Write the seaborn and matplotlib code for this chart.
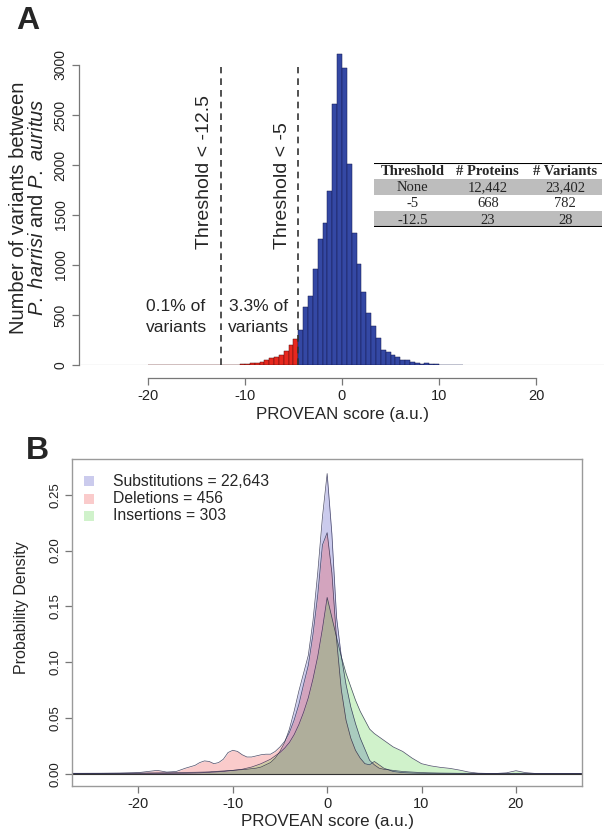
import numpy as np
import matplotlib
matplotlib.use("Agg")
import matplotlib.pyplot as plt
import seaborn as sns

sns.set_theme(style="white")
plt.rcParams['font.family'] = ['Liberation Sans', 'DejaVu Sans']
plt.rcParams['mathtext.fontset'] = 'custom'
plt.rcParams['mathtext.it'] = 'Liberation Sans:italic'
plt.rcParams['mathtext.rm'] = 'Liberation Sans'
plt.rcParams['axes.unicode_minus'] = False

# ---------------- Panel A data ----------------
red_edges = np.arange(-20.0, -4.49, 0.5)          # bins below threshold
red_counts = [1, 1, 1, 1, 1, 2, 1, 2, 2, 2, 2, 2, 3, 3, 4,   # -20 .. -12.5
              1, 2, 2, 3, 7, 10, 17, 23, 33, 50, 67, 83, 100, 143, 200, 260]
blue_edges = np.arange(-4.5, 12.51, 0.5)
blue_counts = [350, 583, 690, 957, 1263, 1423, 1737, 2607, 3110, 2973,
               2010, 1323, 1007, 733, 517, 390, 267, 150, 127, 100,
               75, 50, 50, 25, 23, 12, 17, 8, 5, 4, 3, 3, 2, 2]
thresholds = [-12.5, -4.5]
threshold_labels = ["Threshold < -12.5", "Threshold < -5"]
pct_labels = ["0.1% of\nvariants", "3.3% of\nvariants"]

table_cols = ["Threshold", "# Proteins", "# Variants"]
table_rows = [["None", "12,442", "23,402"],
              ["-5", "668", "782"],
              ["-12.5", "23", "28"]]

# ---------------- Panel B data ----------------
dens_x = [-27, -24, -22, -20, -19, -18, -17, -16, -15, -14, -13.5, -13, -12.5, -12, -11.5, -11,
          -10.5, -10, -9.5, -9, -8.5, -8, -7.5, -7, -6.5, -6, -5.5, -5, -4.5, -4, -3.5, -3,
          -2.5, -2, -1.5, -1, -0.5, 0, 0.5, 1, 1.5, 2, 2.5, 3, 3.5, 4, 4.5, 5, 5.5, 6, 7, 8,
          9, 10, 11, 12, 13, 14, 15, 16, 17, 18, 19, 20, 21, 22, 24, 27]
subst = [0.0004, 0.0004, 0.0005, 0.0006, 0.0007, 0.0008, 0.0009, 0.001, 0.0012, 0.0013, 0.0014,
         0.0015, 0.0017, 0.002, 0.0022, 0.0025, 0.0028, 0.003, 0.0033, 0.0036, 0.004, 0.0045,
         0.005, 0.006, 0.008, 0.01, 0.014, 0.02, 0.028, 0.04, 0.056, 0.074, 0.09, 0.106,
         0.137, 0.18, 0.23, 0.269, 0.215, 0.14, 0.105, 0.08, 0.06, 0.045, 0.032, 0.022, 0.012,
         0.008, 0.005, 0.004, 0.003, 0.002, 0.0015, 0.001, 0.0008, 0.0006, 0.0005, 0.0004,
         0.0004, 0.0003, 0.0003, 0.0003, 0.0003, 0.0003, 0.0003, 0.0003, 0.0002, 0.0002]
delet = [0.0003, 0.0004, 0.0005, 0.001, 0.002, 0.003, 0.0015, 0.002, 0.005, 0.0075, 0.01,
         0.0115, 0.011, 0.009, 0.01, 0.013, 0.019, 0.021, 0.02, 0.017, 0.015, 0.015, 0.016,
         0.017, 0.0175, 0.0175, 0.02, 0.024, 0.029, 0.037, 0.048, 0.062, 0.08, 0.097,
         0.125, 0.16, 0.205, 0.216, 0.18, 0.12, 0.075, 0.048, 0.032, 0.021, 0.014, 0.009,
         0.008, 0.011, 0.008, 0.005, 0.002, 0.001, 0.0006, 0.0004, 0.0003, 0.0003, 0.0002,
         0.0002, 0.0002, 0.0002, 0.0002, 0.0002, 0.0002, 0.0002, 0.0002, 0.0002, 0.0002, 0.0002]
inser = [0.0001, 0.0001, 0.0001, 0.0002, 0.0002, 0.0003, 0.0003, 0.0004, 0.0005, 0.0007, 0.0008,
         0.001, 0.0012, 0.0015, 0.0018, 0.002, 0.0025, 0.003, 0.0035, 0.004, 0.005, 0.006,
         0.0075, 0.009, 0.011, 0.013, 0.016, 0.019, 0.023, 0.028, 0.035, 0.044, 0.055, 0.068,
         0.085, 0.105, 0.13, 0.158, 0.14, 0.122, 0.105, 0.09, 0.078, 0.066, 0.056, 0.048,
         0.04, 0.036, 0.033, 0.03, 0.024, 0.02, 0.014, 0.009, 0.007, 0.0057, 0.0048, 0.0033,
         0.0015, 0.0005, 0.0003, 0.0003, 0.0008, 0.0027, 0.001, 0.0003, 0.0002, 0.0001]
series_names = ["Substitutions = 22,643", "Deletions = 456", "Insertions = 303"]
series_colors = ["#3333bb", "#ee3333", "#44cc33"]

# ---------------- figure ----------------
W, H = 612, 838
fig = plt.figure(figsize=(W / 100, H / 100), dpi=100)

def px_axes(x0, y0, x1, y1):
    return fig.add_axes([x0 / W, 1 - y1 / H, (x1 - x0) / W, (y1 - y0) / H])

grey = "#777777"

# ---- Panel A ----
axA = px_axes(80, 50, 604, 365)
red_centers = np.asarray(red_edges[:len(red_counts)]) + 0.25
red_bins = list(red_edges[:len(red_counts)]) + [red_edges[0] + 0.5 * len(red_counts)]
blue_centers = np.asarray(blue_edges[:len(blue_counts)]) + 0.25
blue_bins = list(blue_edges[:len(blue_counts)]) + [blue_edges[0] + 0.5 * len(blue_counts)]

axA.axhline(0, color="#8a8a8a", lw=0.8, zorder=0)
sns.histplot(x=red_centers, weights=red_counts, bins=red_bins, color="#e8281e",
             edgecolor="#5a1010", linewidth=0.35, alpha=1, ax=axA)
sns.histplot(x=blue_centers, weights=blue_counts, bins=blue_bins, color="#3448a4",
             edgecolor="#141a50", linewidth=0.35, alpha=1, ax=axA)
axA.set_xlim(-27, 27)
axA.set_ylim(0, 3150)
for t in thresholds:
    axA.plot([t, t], [0, 2980], ls=(0, (4, 3)), color="#333333", lw=1.2)

axA.text(-13.3, 1160, threshold_labels[0], rotation=90, ha="right", va="bottom", fontsize=14)
axA.text(-5.3, 1160, threshold_labels[1], rotation=90, ha="right", va="bottom", fontsize=14)
axA.text(-17.1, 480, pct_labels[0], ha="center", va="center", fontsize=12.5, linespacing=1.5)
axA.text(-8.6, 480, pct_labels[1], ha="center", va="center", fontsize=12.5, linespacing=1.5)

for s in ["top", "right"]:
    axA.spines[s].set_visible(False)
axA.spines["bottom"].set_position(("outward", 9.5))
axA.spines["bottom"].set_bounds(-20, 20)
axA.spines["left"].set_bounds(0, 3000)
axA.spines["left"].set_position(("outward", 1))
for s in ["bottom", "left"]:
    axA.spines[s].set_color(grey)
    axA.spines[s].set_linewidth(0.9)
axA.set_xticks([-20, -10, 0, 10, 20])
axA.set_yticks([0, 500, 1000, 1500, 2000, 2500, 3000])
axA.set_yticklabels(["0", "500", "1000", "1500", "2000", "2500", "3000"], rotation=90, va="center")
axA.tick_params(axis="both", which="both", direction="out", length=5, width=0.9, color=grey,
                labelcolor="#222222", left=True, bottom=True, pad=3)
axA.tick_params(axis="y", labelsize=10)
axA.tick_params(axis="x", labelsize=10.5)
axA.set_xlabel("PROVEAN score (a.u.)", fontsize=12.2, labelpad=3)
axA.set_ylabel("Number of variants between\n" + r"$\mathit{P.\ harrisi}$ and $\mathit{P.\ auritus}$",
               fontsize=14.5, labelpad=5, linespacing=1.0)

fig.text(28 / W, 1 - 21 / H, "A", fontsize=23, fontweight="bold", ha="center", va="center")

# table
axT = px_axes(374, 162.7, 601.7, 227.3)
axT.set_xlim(0, 1)
axT.set_ylim(4, 0)
axT.axis("off")
axT.axhspan(1, 2, color="#bdbdbd", lw=0)
axT.axhspan(3, 4, color="#bdbdbd", lw=0)
axT.axhline(0, color="black", lw=1.5)
axT.axhline(4, color="black", lw=1.5)
col_x = [0.17, 0.50, 0.84]
for j, c in enumerate(table_cols):
    axT.text(col_x[j], 0.55, c, ha="center", va="center", fontsize=10.5,
             family="Liberation Serif", fontweight="bold")
for i, row in enumerate(table_rows):
    for j, v in enumerate(row):
        axT.text(col_x[j], i + 1.55, v, ha="center", va="center", fontsize=10.5,
                 family="Liberation Serif")

# ---- Panel B ----
axB = px_axes(72.3, 459, 582, 786)
xs = np.asarray(dens_x, dtype=float)
for ys, col, name in zip([subst, delet, inser], series_colors, series_names):
    axB.fill_between(xs, 0, ys, color=col, alpha=0.25, lw=0)
    sns.lineplot(x=xs, y=ys, color="#222244", lw=0.5, alpha=0.8, ax=axB)
axB.axhline(0, color="#333333", lw=0.8)
axB.set_xlim(-27, 27)
axB.set_ylim(-0.011, 0.282)
for s in axB.spines.values():
    s.set_color("#9a9a9a")
    s.set_linewidth(1.0)
axB.set_xticks([-20, -10, 0, 10, 20])
axB.set_yticks([0.0, 0.05, 0.10, 0.15, 0.20, 0.25])
axB.set_yticklabels(["0.00", "0.05", "0.10", "0.15", "0.20", "0.25"], rotation=90, va="center")
axB.tick_params(axis="both", direction="out", length=5, width=0.9, color=grey,
                labelsize=9.5, labelcolor="#222222", left=True, bottom=True, pad=3)
axB.tick_params(axis="x", labelsize=10.5)
axB.set_xlabel("PROVEAN score (a.u.)", fontsize=12.2, labelpad=2)
axB.set_ylabel("Probability Density", fontsize=11.5)
axB.yaxis.set_label_coords(-0.085, 0.545)

# legend
for k, (name, col) in enumerate(zip(series_names, series_colors)):
    yk = 0.262 - k * 0.0155
    axB.scatter([-25.2], [yk], marker="s", s=55, color=col, alpha=0.25, lw=0)
    axB.text(-22.7, yk, name, fontsize=11.3, va="center", ha="left")

fig.text(37.5 / W, 1 - 451 / H, "B", fontsize=23, fontweight="bold", ha="center", va="center")

fig.savefig("out.png", dpi=100)
